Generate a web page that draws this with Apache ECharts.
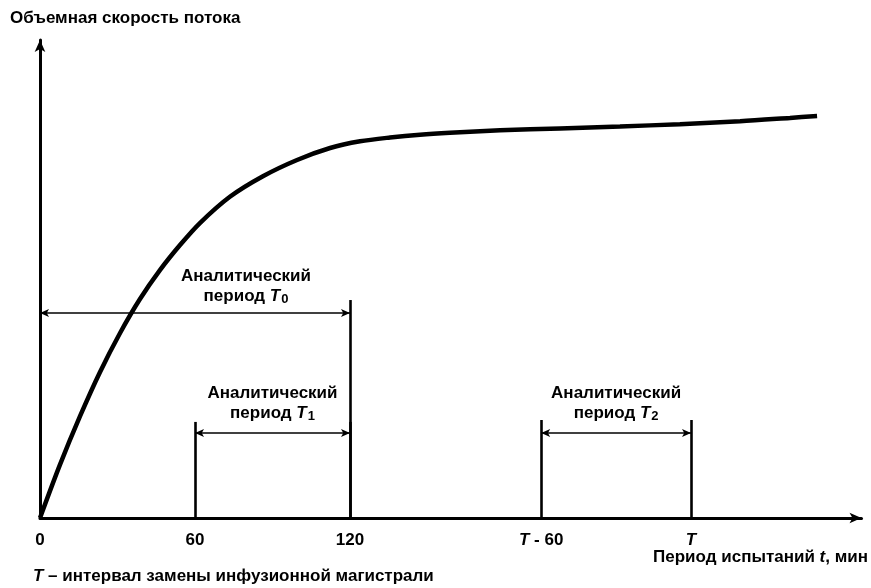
<!DOCTYPE html>
<html>
<head>
<meta charset="utf-8">
<script src="https://cdn.jsdelivr.net/npm/echarts@6/dist/echarts.min.js"></script>
<style>html,body{margin:0;padding:0;background:#fff}#c{width:871px;height:588px}</style>
</head>
<body>
<div id="c"></div>
<script>
// Flow-rate curve (time in min, relative flow 0..100)
var curveT = [0, 7.7, 15.5, 23.2, 31.0, 38.7, 46.5, 54.2, 61.9, 73.5, 86.3, 99.5, 112.3, 123.9, 135.5, 147.1, 158.7, 178.1, 201.3, 224.5, 247.7, 271.0, 290.3, 300.8];
var curveQ = [0, 11.1, 21.3, 30.5, 38.7, 45.8, 51.9, 57.1, 61.7, 67.2, 71.5, 74.9, 77.4, 78.8, 79.6, 80.2, 80.6, 81.1, 81.5, 81.9, 82.4, 83.0, 83.7, 84.1];
// Symbolic tick positions on the time axis
var tickValues = [0, 60, 120, 194, 252];
var tickLabels = ['0', '60', '120', '{i|T} - 60', '{i|T}'];
// Analytical periods: start, end, level of dimension line, top of extension lines
var periodNames = ['0', '1', '2'];
var periodStart = [0, 60, 194];
var periodEnd = [120, 120, 252];
var periodLevel = [42.9, 17.8, 17.8];
var extTopStart = [null, 20.1, 20.5];
var extTopEnd = [45.6, 20.1, 20.5];

var BLACK = '#000';
var fontFam = '"Liberation Sans", Arial, sans-serif';
var FS = 17;

var chart = echarts.init(document.getElementById('c'), null, {renderer: 'canvas'});

var curveData = curveT.map(function (t, i) { return [t, curveQ[i]]; });

var dimLines = [], extLines = [], labelPts = [];
for (var k = 0; k < periodNames.length; k++) {
  dimLines.push([{coord: [periodStart[k], periodLevel[k]]}, {coord: [periodEnd[k], periodLevel[k]]}]);
  if (extTopStart[k] !== null) extLines.push([{coord: [periodStart[k], 0]}, {coord: [periodStart[k], extTopStart[k]]}]);
  extLines.push([{coord: [periodEnd[k], 0]}, {coord: [periodEnd[k], extTopEnd[k]]}]);
  labelPts.push({value: [(periodStart[k] + periodEnd[k]) / 2, periodLevel[k]], sub: periodNames[k]});
}

var richText = {
  a: {fontSize: FS, fontWeight: 'bold', fontFamily: fontFam, color: BLACK, lineHeight: 20},
  i: {fontSize: FS, fontWeight: 'bold', fontStyle: 'italic', fontFamily: fontFam, color: BLACK, lineHeight: 20},
  sub: {fontSize: 13, fontWeight: 'bold', fontFamily: fontFam, color: BLACK, padding: [8, 0, 0, 1], verticalAlign: 'bottom', lineHeight: 20}
};

chart.setOption({
  animation: false,
  backgroundColor: '#fff',
  grid: {left: 40, right: 9.5, top: 40, bottom: 70},
  xAxis: {
    type: 'value', min: 0, max: 318,
    splitLine: {show: false},
    axisTick: {show: false},
    axisLine: {show: true, onZero: false, symbol: ['none', 'arrow'], symbolSize: [8, 12], lineStyle: {color: BLACK, width: 3}},
    axisLabel: {
      customValues: tickValues,
      margin: 14,
      formatter: function (v) { var i = tickValues.indexOf(v); return i >= 0 ? tickLabels[i] : ''; },
      fontSize: FS, fontWeight: 'bold', fontFamily: fontFam, color: BLACK,
      rich: {i: {fontSize: FS, fontWeight: 'bold', fontStyle: 'italic', fontFamily: fontFam, color: BLACK}}
    }
  },
  yAxis: {
    type: 'value', min: 0, max: 100,
    splitLine: {show: false},
    axisTick: {show: false},
    axisLabel: {show: false},
    axisLine: {show: true, onZero: false, symbol: ['none', 'arrow'], symbolSize: [8, 12], lineStyle: {color: BLACK, width: 3}}
  },
  graphic: [
    {type: 'text', left: 10, top: 10, style: {text: 'Объемная скорость потока', font: 'bold ' + FS + 'px ' + fontFam, fill: BLACK}},
    {type: 'text', right: 3, top: 549, style: {
      text: 'Период испытаний {i|t}, мин', font: 'bold ' + FS + 'px ' + fontFam, fill: BLACK,
      rich: {i: {fontStyle: 'italic', fontWeight: 'bold', fontSize: FS, fontFamily: fontFam, fill: BLACK}}
    }},
    {type: 'text', left: 33, top: 568, style: {
      text: '{i|T} – интервал замены инфузионной магистрали', font: 'bold ' + FS + 'px ' + fontFam, fill: BLACK,
      rich: {i: {fontStyle: 'italic', fontWeight: 'bold', fontSize: FS, fontFamily: fontFam, fill: BLACK}}
    }}
  ],
  series: [
    {
      type: 'line', data: curveData, smooth: 0.3, showSymbol: false, symbol: 'none',
      lineStyle: {color: BLACK, width: 4.5}, z: 5
    },
    {
      type: 'line', data: [], silent: true,
      markLine: {
        silent: true, animation: false,
        symbol: ['arrow', 'arrow'], symbolSize: [6, 9],
        label: {show: false},
        lineStyle: {color: BLACK, width: 1.6, type: 'solid'},
        data: dimLines
      }
    },
    {
      type: 'line', data: [], silent: true,
      markLine: {
        silent: true, animation: false,
        symbol: ['none', 'none'],
        label: {show: false},
        lineStyle: {color: BLACK, width: 2.6, type: 'solid'},
        data: extLines
      }
    },
    {
      type: 'scatter', symbolSize: 0, silent: true,
      itemStyle: {color: BLACK, opacity: 1},
      data: labelPts,
      label: {
        show: true, position: 'inside', align: 'center', verticalAlign: 'middle', color: BLACK,
        formatter: function (p) { return '{a|Аналитический}\n{a|период }{i|T}{sub|' + p.data.sub + '}'; },
        rich: richText
      },
      labelLayout: function (p) {
        var k = p.dataIndex;
        return {dx: k === 0 ? 51 : 0, dy: k === 0 ? -27 : -30};
      }
    }
  ]
});
</script>
</body>
</html>
